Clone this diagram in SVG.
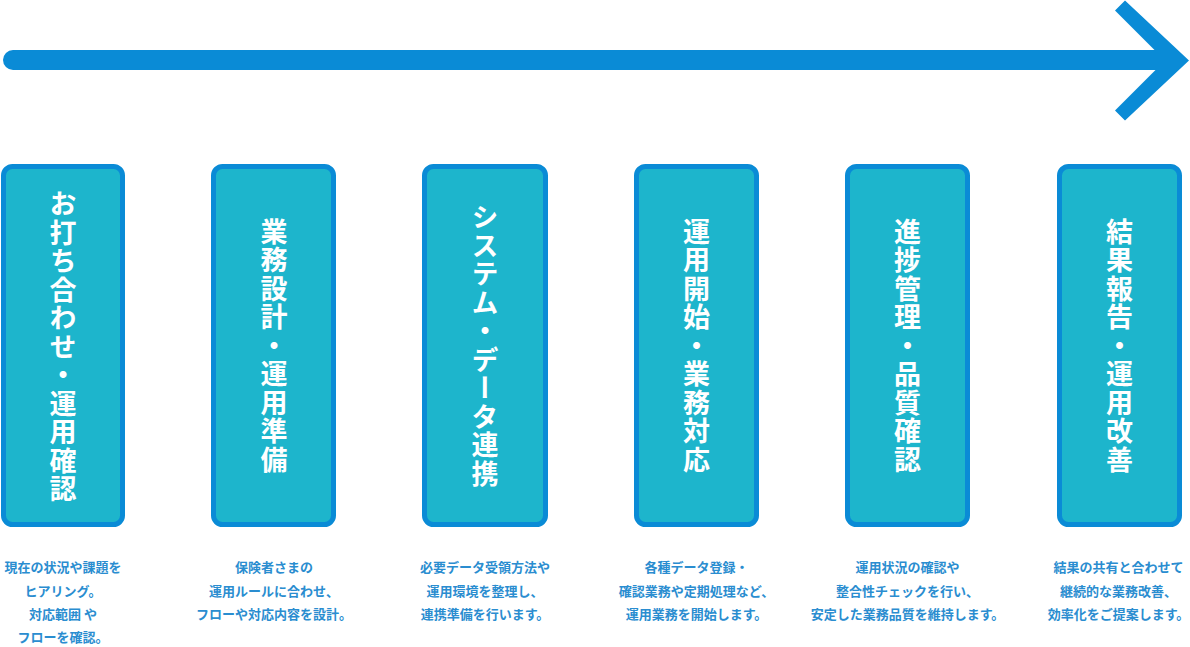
<svg xmlns="http://www.w3.org/2000/svg" width="1190" height="647" viewBox="0 0 1190 647">
<style>
.box{fill:#1db5cc;stroke:#0a8bd6;stroke-width:5}
.title{font-family:"Noto Sans CJK JP","Noto Sans CJK SC",sans-serif;font-size:27px;font-weight:700;fill:#ffffff;writing-mode:vertical-rl;letter-spacing:1.5px}
.desc{font-family:"Noto Sans CJK JP","Noto Sans CJK SC",sans-serif;font-size:13px;font-weight:700;fill:#2a8dd0;text-anchor:middle}
</style>
<rect width="1190" height="647" fill="#ffffff"/>
<g id="connectors">
<path d="M13 60 H1172" stroke="#0a8bd6" stroke-width="20" stroke-linecap="round" fill="none"/>
<polygon points="1125,0.5 1189,60.5 1125,120.5 1115,110.5 1165,60.5 1115,10.5" fill="#0a8bd6"/>
</g>
<g id="step1">
<rect class="box" x="3.5" y="166.5" width="119" height="358" rx="9"/>
<text class="title" x="63" y="347" text-anchor="middle">お打ち合わせ・運用確認</text>
<text class="desc" x="63" y="572">現在の状況や課題を</text>
<text class="desc" x="63" y="595.5">ヒアリング。</text>
<text class="desc" x="63" y="619">対応範囲 や</text>
<text class="desc" x="63" y="642">フローを確認。</text>
</g>
<g id="step2">
<rect class="box" x="213.5" y="166.5" width="120" height="358" rx="9"/>
<text class="title" x="274" y="346" text-anchor="middle">業務設計・運用準備</text>
<text class="desc" x="274" y="572">保険者さまの</text>
<text class="desc" x="274" y="595.5">運用ルールに合わせ、</text>
<text class="desc" x="274" y="619">フローや対応内容を設計。</text>
</g>
<g id="step3">
<rect class="box" x="424.5" y="166.5" width="121" height="358" rx="9"/>
<text class="title" x="485" y="346" text-anchor="middle">システム・データ連携</text>
<text class="desc" x="485" y="572">必要データ受領方法や</text>
<text class="desc" x="485" y="595.5">運用環境を整理し、</text>
<text class="desc" x="485" y="619">連携準備を行います。</text>
</g>
<g id="step4">
<rect class="box" x="636.5" y="166.5" width="120" height="358" rx="9"/>
<text class="title" x="696.5" y="346" text-anchor="middle">運用開始・業務対応</text>
<text class="desc" x="696.5" y="572">各種データ登録・</text>
<text class="desc" x="696.5" y="595.5">確認業務や定期処理など、</text>
<text class="desc" x="696.5" y="619">運用業務を開始します。</text>
</g>
<g id="step5">
<rect class="box" x="847.5" y="166.5" width="120" height="358" rx="9"/>
<text class="title" x="907.5" y="346" text-anchor="middle">進捗管理・品質確認</text>
<text class="desc" x="907.5" y="572">運用状況の確認や</text>
<text class="desc" x="907.5" y="595.5">整合性チェックを行い、</text>
<text class="desc" x="907.5" y="619">安定した業務品質を維持します。</text>
</g>
<g id="step6">
<rect class="box" x="1059.5" y="166.5" width="120" height="358" rx="9"/>
<text class="title" x="1119.5" y="346" text-anchor="middle">結果報告・運用改善</text>
<text class="desc" x="1118.5" y="572">結果の共有と合わせて</text>
<text class="desc" x="1118.5" y="595.5">継続的な業務改善、</text>
<text class="desc" x="1118.5" y="619">効率化をご提案します。</text>
</g>
</svg>
